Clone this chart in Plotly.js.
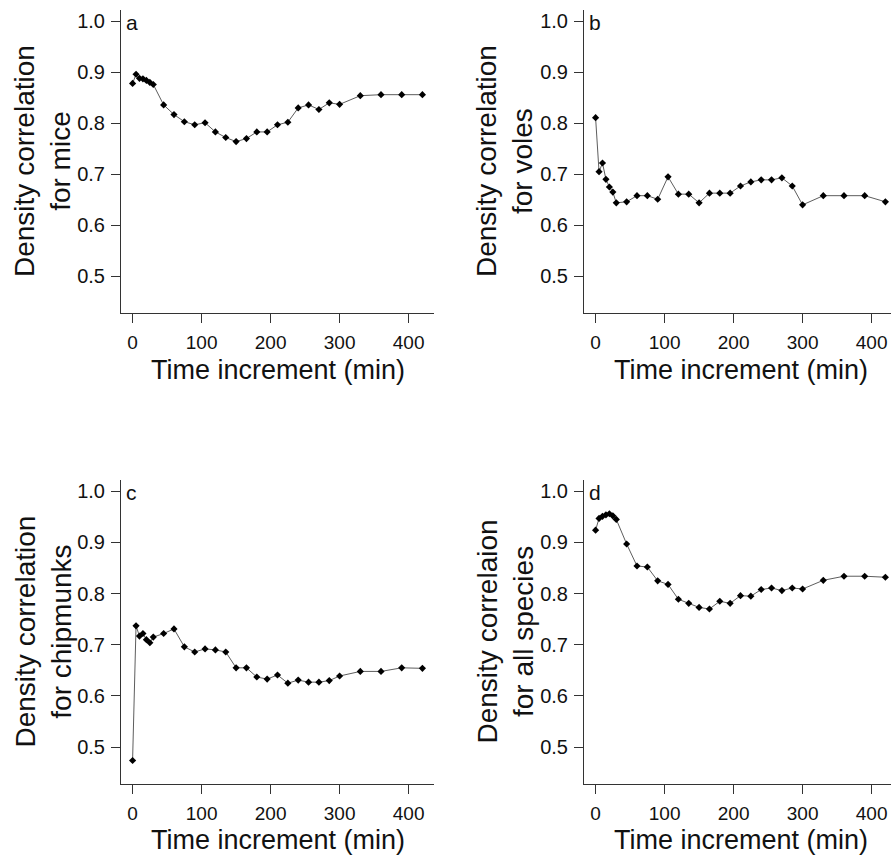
<!DOCTYPE html>
<html><head><meta charset="utf-8">
<script src="https://cdn.plot.ly/plotly-3.0.1.min.js"></script>
<style>html,body{margin:0;padding:0;background:#fff}#chart{width:891px;height:860px}</style>
</head><body><div id="chart"></div>
<script>
const timeMin = [0,5,10,15,20,25,30,45,60,75,90,105,120,135,150,165,180,195,210,225,240,255,270,285,300,330,360,390,420];
const mice = [0.878,0.896,0.888,0.887,0.884,0.880,0.876,0.836,0.817,0.803,0.797,0.801,0.783,0.772,0.764,0.770,0.783,0.783,0.797,0.802,0.830,0.836,0.827,0.840,0.837,0.854,0.856,0.856,0.856];
const voles = [0.811,0.705,0.722,0.690,0.675,0.665,0.644,0.646,0.658,0.658,0.651,0.695,0.661,0.661,0.644,0.663,0.663,0.663,0.677,0.685,0.689,0.689,0.693,0.677,0.640,0.658,0.658,0.658,0.646];
const chipmunks = [0.474,0.737,0.717,0.722,0.710,0.704,0.715,0.722,0.731,0.696,0.686,0.692,0.690,0.686,0.655,0.655,0.637,0.633,0.641,0.625,0.631,0.627,0.627,0.630,0.639,0.648,0.648,0.655,0.654];
const allSpecies = [0.924,0.947,0.951,0.954,0.956,0.952,0.945,0.897,0.854,0.852,0.825,0.818,0.789,0.781,0.773,0.770,0.785,0.781,0.796,0.795,0.808,0.811,0.806,0.811,0.809,0.826,0.834,0.834,0.832];
const panelLetters = ['a','b','c','d'];
const yTitles = ['Density correlation<br>for mice','Density correlation<br>for voles','Density correlation<br>for chipmunks','Density correlaion<br>for all species'];
const xTitle = 'Time increment (min)';
const xTickVals = [0,100,200,300,400];
const yTickVals = [0.5,0.6,0.7,0.8,0.9,1.0];

const series = [mice, voles, chipmunks, allSpecies];
const FONT = '"Liberation Sans", Arial, sans-serif';
const INK = '#111';
const W = 891, H = 860;
const xDomL = [121/W, 434/W], xDomR = [584/W, 1];
const yDomT = [(H-313)/H, (H-10)/H], yDomB = [(H-784)/H, (H-480)/H];
const xRangeFull = [-16.8, 436.8];
const xRangeCut = [-16.8, -16.8 + (W-584)/0.69];
const yRange = [0.428, 1.022];

const traces = series.map((s,i)=>({
  type:'scatter', mode:'lines+markers', x:timeMin, y:s,
  xaxis: i===0?'x':'x'+(i+1), yaxis: i===0?'y':'y'+(i+1),
  line:{color:'#333', width:0.8},
  marker:{symbol:'diamond', size:5.5, color:'#000', line:{width:0}},
  cliponaxis:false, showlegend:false, hoverinfo:'x+y'
}));

function xa(dom, rng, anchor){
  return {domain:dom, range:rng, anchor:anchor, showgrid:false, zeroline:false,
    showline:true, linecolor:'#333', linewidth:1, ticks:'outside', ticklen:9, tickwidth:1, tickcolor:'#333',
    tickmode:'array', tickvals:xTickVals, ticktext:xTickVals.map(String),
    ticklabelstandoff:3,
    tickfont:{family:FONT, size:19, color:INK}, fixedrange:true};
}
function ya(dom, anchor){
  return {domain:dom, range:yRange, anchor:anchor, showgrid:false, zeroline:false,
    showline:true, linecolor:'#333', linewidth:1, ticks:'outside', ticklen:9, tickwidth:1, tickcolor:'#333',
    tickmode:'array', tickvals:yTickVals, ticktext:yTickVals.map(v=>v.toFixed(1)),
    ticklabelstandoff:2,
    tickfont:{family:FONT, size:20, color:INK}, fixedrange:true};
}

const annotations = [];
const panels = [
  {xr:'x', yr:'y', titleX:42.5, xTitleX:277.5, xTitleY:370, yd:yDomT},
  {xr:'x2', yr:'y2', titleX:504.5, xTitleX:740.5, xTitleY:370, yd:yDomT},
  {xr:'x3', yr:'y3', titleX:42.5, xTitleX:277.5, xTitleY:840, yd:yDomB},
  {xr:'x4', yr:'y4', titleX:504.5, xTitleX:740.5, xTitleY:840, yd:yDomB}
];
panels.forEach((p,i)=>{
  annotations.push({xref:p.xr+' domain', x:0, xanchor:'left', xshift:3,
    yref:p.yr, y:1.0, yanchor:'middle', yshift:-1, text:panelLetters[i], showarrow:false,
    font:{family:FONT, size:21, color:INK}});
  annotations.push({xref:'paper', x:p.titleX/W, xanchor:'center',
    yref:'paper', y:(p.yd[0]+p.yd[1])/2, yanchor:'middle', textangle:-90,
    text:yTitles[i], showarrow:false, font:{family:FONT, size:28, color:INK}});
  annotations.push({xref:'paper', x:p.xTitleX/W, xanchor:'center',
    yref:'paper', y:(H-p.xTitleY)/H, yanchor:'middle', borderpad:0,
    text:xTitle, showarrow:false, font:{family:FONT, size:27, color:INK}});
});

const layout = {
  width:W, height:H, margin:{l:0,r:0,t:0,b:0},
  paper_bgcolor:'#fff', plot_bgcolor:'#fff',
  font:{family:FONT, color:INK},
  xaxis: xa(xDomL, xRangeFull, 'y'),
  xaxis2: xa(xDomR, xRangeCut, 'y2'),
  xaxis3: xa(xDomL, xRangeFull, 'y3'),
  xaxis4: xa(xDomR, xRangeCut, 'y4'),
  yaxis: ya(yDomT, 'x'),
  yaxis2: ya(yDomT, 'x2'),
  yaxis3: ya(yDomB, 'x3'),
  yaxis4: ya(yDomB, 'x4'),
  annotations: annotations
};
Plotly.newPlot('chart', traces, layout, {displayModeBar:false, staticPlot:true});
</script></body></html>
